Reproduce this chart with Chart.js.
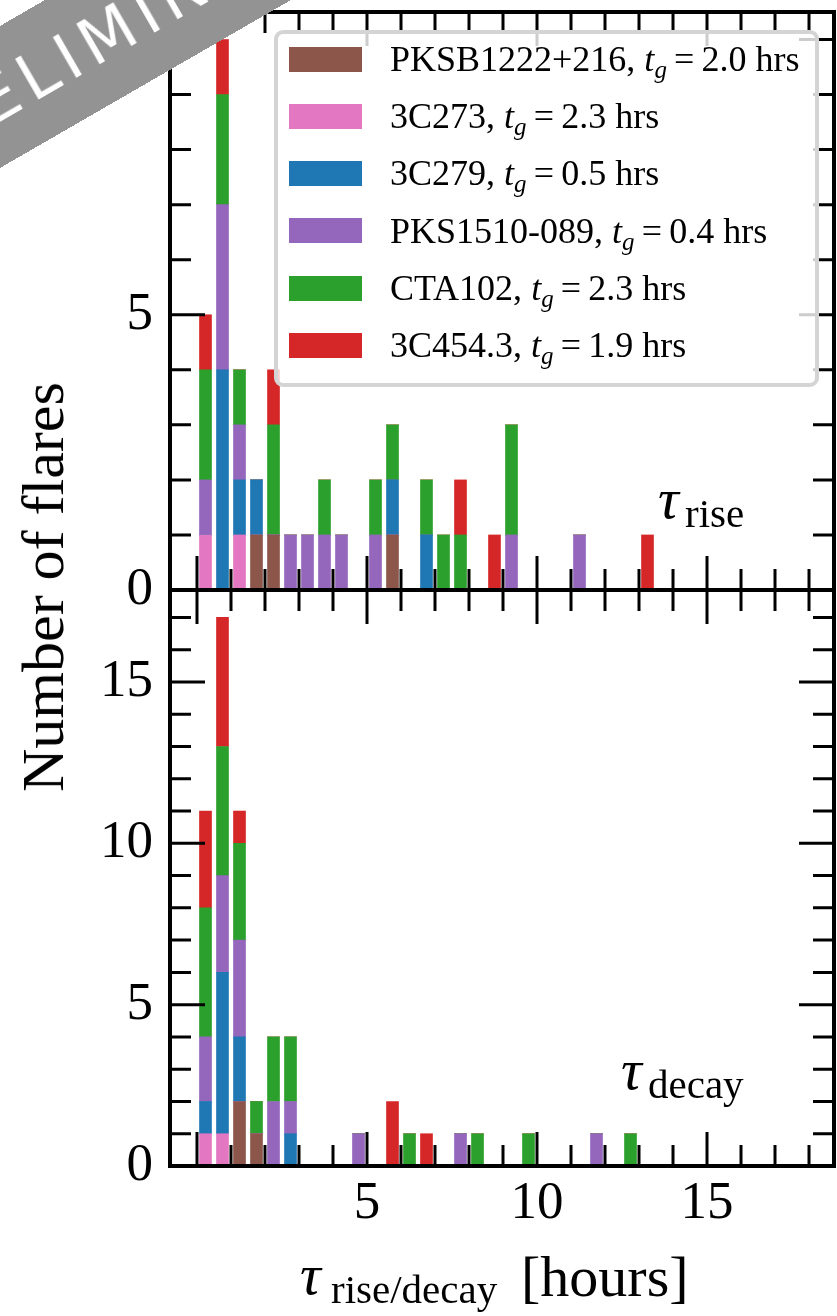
<!DOCTYPE html>
<html>
<head>
<meta charset="utf-8">
<title>Flare rise and decay times</title>
<script src="https://cdn.jsdelivr.net/npm/chart.js@4.4.1/dist/chart.umd.min.js"></script>
<style>
  html, body { margin:0; padding:0; background:#fff; }
  #wrap { position:relative; width:837px; height:1316px; overflow:hidden; background:#fff;
          font-family:"Liberation Serif","Times New Roman",serif; color:#000; }
  #wrap canvas { position:absolute; left:0; }
  #c1 { top:0; }
  #c2 { top:570px; }
  .txt { position:absolute; white-space:nowrap; }
  #legend { position:absolute; left:274px; top:30px; width:545px; height:357px; box-sizing:border-box;
            border:4px solid #d4d4d4; border-radius:9px; background:rgba(255,255,255,0.8); }
  .lg-patch { position:absolute; left:11px; width:73px; height:25px; }
  .lg-text { position:absolute; left:112px; font-size:36px; line-height:36px; white-space:nowrap; }
  .lg-text .sub { font-size:25px; font-style:italic; position:relative; top:7px; }
  #ytitle { left:43px; top:587px; font-size:60px; line-height:60px; transform:translate(-50%,-50%) rotate(-90deg); }
  #banner { position:absolute; left:116px; top:30px; width:900px; height:123px; background:#939393;
            transform:translate(-50%,-50%) rotate(-30deg); z-index:10; color:#fff;
            font-family:"DejaVu Sans",sans-serif; font-size:64px; line-height:123px; text-align:center; letter-spacing:8px; }
</style>
</head>
<body>
<div id="wrap">
  <canvas id="c1" width="837" height="620"></canvas>
  <canvas id="c2" width="837" height="746"></canvas>
  <div id="legend"></div>
  <div id="ytitle" class="txt">Number of flares</div>
  <div id="banner">PRELIMINARY</div>
</div>
<script>
// ---- data ----
const binCenters = [0.25,0.75,1.25,1.75,2.25,2.75,3.25,3.75,4.25,4.75,5.25,5.75,6.25,6.75,7.25,7.75,8.25,8.75,9.25,9.75,10.25,10.75,11.25,11.75,12.25,12.75,13.25];
const sources = ['PKSB1222+216','3C273','3C279','PKS1510-089','CTA102','3C454.3'];
const tgHours = ['2.0','2.3','0.5','0.4','2.3','1.9'];

const risePKSB1222 = [0,0,0,1,1,0,0,0,0,0,0,1,0,0,0,0,0,0,0,0,0,0,0,0,0,0,0];
const rise3C273    = [1,0,1,0,0,0,0,0,0,0,0,0,0,0,0,0,0,0,0,0,0,0,0,0,0,0,0];
const rise3C279    = [0,4,1,1,0,0,0,0,0,0,0,1,0,1,0,0,0,0,0,0,0,0,0,0,0,0,0];
const risePKS1510  = [1,3,1,0,0,1,1,1,1,0,1,0,0,0,0,0,0,0,1,0,0,0,1,0,0,0,0];
const riseCTA102   = [2,2,1,0,2,0,0,1,0,0,1,1,0,1,1,1,0,0,2,0,0,0,0,0,0,0,0];
const rise3C454    = [1,1,0,0,1,0,0,0,0,0,0,0,0,0,0,1,0,1,0,0,0,0,0,0,0,0,1];

const decayPKSB1222 = [0,0,2,1,0,0,0,0,0,0,0,0,0,0,0,0,0,0,0,0,0,0,0,0,0,0,0];
const decay3C273    = [1,1,0,0,0,0,0,0,0,0,0,0,0,0,0,0,0,0,0,0,0,0,0,0,0,0,0];
const decay3C279    = [1,5,2,0,0,1,0,0,0,0,0,0,0,0,0,0,0,0,0,0,0,0,0,0,0,0,0];
const decayPKS1510  = [2,3,3,0,2,1,0,0,0,1,0,0,0,0,0,1,0,0,0,0,0,0,0,1,0,0,0];
const decayCTA102   = [4,4,3,1,2,2,0,0,0,0,0,0,1,0,0,0,1,0,0,1,0,0,0,0,0,1,0];
const decay3C454    = [3,4,1,0,0,0,0,0,0,0,0,2,0,1,0,0,0,0,0,0,0,0,0,0,0,0,0];

// ---- style ----
const colors = ['#8c564b','#e377c2','#1f77b4','#9467bd','#2ca02c','#d62728'];
const SERIF = 'Liberation Serif';

function makeDatasets(seriesList) {
  return seriesList.map((counts, i) => ({
    label: sources[i],
    data: binCenters.map((c, k) => ({ x: c, y: counts[k] })),
    backgroundColor: colors[i],
    borderWidth: 0,
    barThickness: 12,
    stack: 'all'
  }));
}

const frameTicks = {
  id: 'frameTicks',
  afterDraw(chart) {
    const { ctx, chartArea: a, scales: { x, y } } = chart;
    ctx.save();
    ctx.strokeStyle = '#000';
    ctx.lineWidth = 3;
    ctx.beginPath();
    for (let v = Math.ceil(x.min); v <= x.max; v++) {
      const p = x.getPixelForValue(v);
      const L = (v % 5 === 0) ? 34 : 21;
      ctx.moveTo(p, a.bottom); ctx.lineTo(p, a.bottom - L);
      ctx.moveTo(p, a.top); ctx.lineTo(p, a.top + L);
    }
    for (let v = 1; v < y.max; v++) {
      const p = y.getPixelForValue(v);
      const L = (v % 5 === 0) ? 35 : 21;
      ctx.moveTo(a.left, p); ctx.lineTo(a.left + L, p);
      ctx.moveTo(a.right, p); ctx.lineTo(a.right - L, p);
    }
    ctx.stroke();
    ctx.lineWidth = 4;
    ctx.strokeRect(a.left, a.top, a.right - a.left, a.bottom - a.top);
    ctx.restore();
  }
};

function yScale(max) {
  return {
    type: 'linear', min: 0, max: max, stacked: true,
    grid: { display: false, drawTicks: false }, border: { display: false },
    ticks: { stepSize: 5, includeBounds: false, padding: 17, color: '#000',
             font: { family: SERIF, size: 53 } },
    afterFit(s) { s.width = 170; s.paddingTop = 0; s.paddingBottom = 0; }
  };
}
function xScale(show) {
  const sc = {
    type: 'linear', min: -0.794, max: 18.735, stacked: true, display: show, offset: false,
    grid: { display: false, drawTicks: false, offset: false }, border: { display: false },
    ticks: { stepSize: 5, includeBounds: false, padding: 6, maxRotation: 0, autoSkip: false,
             color: '#000', font: { family: SERIF, size: 53 },
             callback: v => (v === 0 ? '' : String(v)) }
  };
  if (show) sc.afterFit = s => { s.height = 70; s.paddingLeft = 0; s.paddingRight = 0; };
  return sc;
}
function baseOptions(yMax, showX, pad) {
  return {
    responsive: false, animation: false, devicePixelRatio: 1,
    layout: { padding: pad },
    plugins: { legend: { display: false }, tooltip: { enabled: false } },
    scales: { x: xScale(showX), y: yScale(yMax) }
  };
}

const chartRise = new Chart(document.getElementById('c1'), {
  type: 'bar',
  data: { datasets: makeDatasets([risePKSB1222, rise3C273, rise3C279, risePKS1510, riseCTA102, rise3C454]) },
  options: baseOptions(10.5, false, { top: 12, bottom: 30, left: 0, right: 3 }),
  plugins: [frameTicks]
});
const chartDecay = new Chart(document.getElementById('c2'), {
  type: 'bar',
  data: { datasets: makeDatasets([decayPKSB1222, decay3C273, decay3C279, decayPKS1510, decayCTA102, decay3C454]) },
  options: baseOptions(17.85, true, { top: 20, bottom: 80, left: 0, right: 3 }),
  plugins: [frameTicks]
});

// ---- legend (built from the chart datasets) ----
const legend = document.getElementById('legend');
chartRise.data.datasets.forEach((ds, i) => {
  const off = 57.3 * i;
  const patch = document.createElement('div');
  patch.className = 'lg-patch';
  patch.style.top = (12.5 + off) + 'px';
  patch.style.background = ds.backgroundColor;
  legend.appendChild(patch);
  const t = document.createElement('div');
  t.className = 'lg-text';
  t.style.top = (6.85 + off) + 'px';
  t.innerHTML = ds.label + ', <i>t</i><span class="sub">g</span>&thinsp;=&thinsp;' + tgHours[i] + ' hrs';
  legend.appendChild(t);
});

// ---- annotations ----
const wrap = document.getElementById('wrap');
function placeText(html, x, baseline, size, italic) {
  const d = document.createElement('div');
  d.className = 'txt';
  d.style.left = x + 'px';
  d.style.top = (baseline - 0.8375 * size) + 'px';
  d.style.fontSize = size + 'px';
  d.style.lineHeight = size + 'px';
  if (italic) d.style.fontStyle = 'italic';
  d.innerHTML = html;
  wrap.insertBefore(d, document.getElementById('banner'));
}
placeText('τ', 658, 519, 58, true);
placeText('rise', 685, 527, 41, false);
placeText('τ', 621, 1090, 58, true);
placeText('decay', 648, 1098, 41, false);
placeText('τ', 300, 1295, 58, true);
placeText('rise/decay', 331, 1303, 41, false);
placeText('[hours]', 521, 1297, 58, false);
</script>
</body>
</html>
